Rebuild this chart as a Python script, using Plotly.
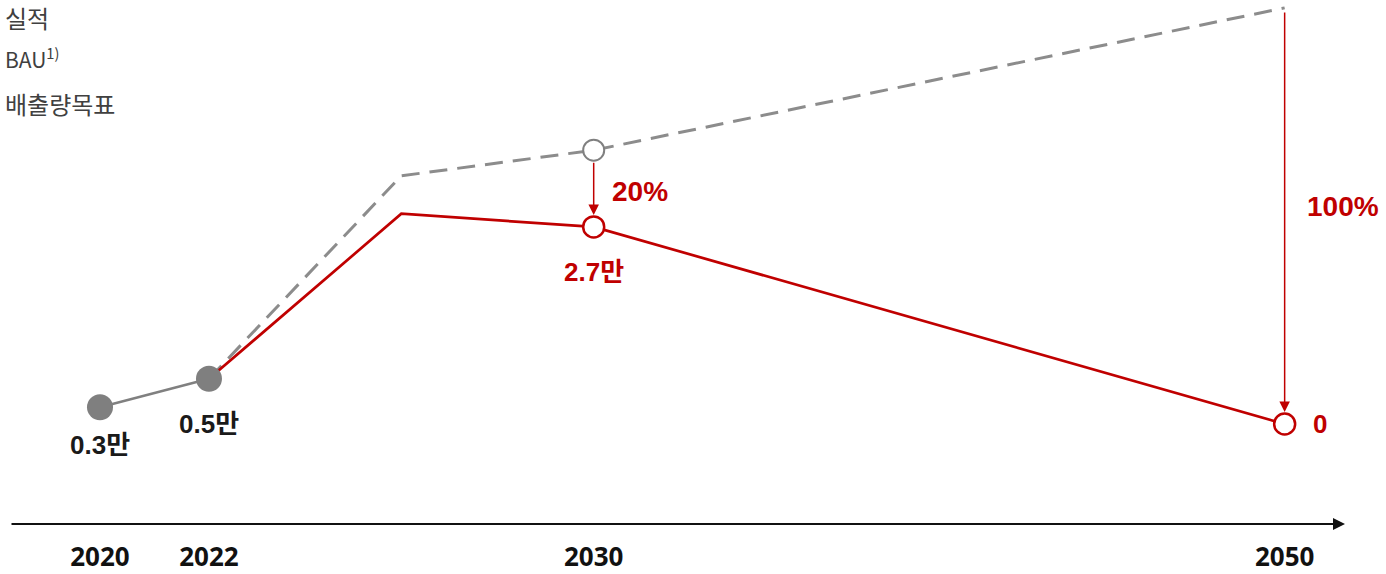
import numpy as np
import plotly.graph_objects as go

# ---- data (unit: 만) ----
actual_years = [2020, 2022]
actual_vals = [0.23, 0.62]
actual_labels = ["0.3만", "0.5만"]

bau_years = [2022, 2026, 2030, 2050]
bau_vals = [0.62, 3.40, 3.75, 5.70]

target_years = [2022, 2026, 2030, 2050]
target_vals = [0.62, 2.88, 2.70, 0.0]
target_labels = {2030: "2.7만", 2050: "0"}
reduction_labels = {2030: "20%", 2050: "100%"}

tick_years = [2020, 2022, 2030, 2050]
tick_text = ["2020", "2022", "2030", "2050"]

legend_items = ["실적", "BAU<sup>1)</sup>", "배출량목표"]

# ---- compressed (piecewise-linear) time scale ----
SCALE_YEARS = [2020, 2022, 2030, 2050]
SCALE_POS = [0.0, 2.0, 9.06, 21.74]


def xpos(years):
    return list(np.interp(years, SCALE_YEARS, SCALE_POS))


RED = "#c00000"
GRAY = "#808080"
BOLDF = "Liberation Sans, Arial, Noto Sans CJK KR, sans-serif"
PLOT_H = 524  # plot-area height in px (figure 574, bottom margin 50)

fig = go.Figure()

# BAU dashed line
fig.add_trace(go.Scatter(
    x=xpos(bau_years), y=bau_vals, mode="lines",
    line=dict(color="#8c8c8c", width=3, dash="18px,10px"),
    hoverinfo="skip", showlegend=False))

# BAU 2030 open marker
i30 = bau_years.index(2030)
fig.add_trace(go.Scatter(
    x=xpos([bau_years[i30]]), y=[bau_vals[i30]], mode="markers",
    marker=dict(size=21, color="white", line=dict(color="#808080", width=2)),
    hoverinfo="skip", showlegend=False))

# Target line
fig.add_trace(go.Scatter(
    x=xpos(target_years), y=target_vals, mode="lines",
    line=dict(color=RED, width=2.7),
    hoverinfo="skip", showlegend=False))

# Target open markers (2030, 2050)
mk_years = [y for y in target_years if y in target_labels]
mk_vals = [target_vals[target_years.index(y)] for y in mk_years]
fig.add_trace(go.Scatter(
    x=xpos(mk_years), y=mk_vals, mode="markers",
    marker=dict(size=21, color="white", line=dict(color=RED, width=2.5)),
    hoverinfo="skip", showlegend=False))

# Actual line + filled markers
fig.add_trace(go.Scatter(
    x=xpos(actual_years), y=actual_vals, mode="lines+markers",
    line=dict(color=GRAY, width=2.5),
    marker=dict(size=26, color="#7f7f7f"),
    hoverinfo="skip", showlegend=False))

annotations = []

# actual value labels
for yr, v, lab, ys in zip(actual_years, actual_vals, actual_labels, [-38, -45]):
    annotations.append(dict(
        x=xpos([yr])[0], y=v, text=f"<b>{lab}</b>", showarrow=False,
        yshift=ys, font=dict(family=BOLDF, size=26, color="#1a1a1a")))

# target labels
for yr, lab in target_labels.items():
    v = target_vals[target_years.index(yr)]
    if yr == 2050:
        annotations.append(dict(
            x=xpos([yr])[0], y=v, text=f"<b>{lab}</b>", showarrow=False,
            xshift=35, font=dict(family=BOLDF, size=26, color=RED)))
    else:
        annotations.append(dict(
            x=xpos([yr])[0], y=v, text=f"<b>{lab}</b>", showarrow=False,
            yshift=-45, font=dict(family=BOLDF, size=26, color=RED)))

# reduction arrows + labels
for yr, lab in reduction_labels.items():
    b = bau_vals[bau_years.index(yr)]
    t = target_vals[target_years.index(yr)]
    x = xpos([yr])[0]
    annotations.append(dict(
        x=x, y=t, ax=x, ay=b, xref="x", yref="y", axref="x", ayref="y",
        showarrow=True, arrowhead=2, arrowsize=1.4, arrowwidth=1.5,
        arrowcolor=RED, standoff=12, startstandoff=11 if yr == 2030 else 3,
        text=""))
    annotations.append(dict(
        x=x, y=(b + t) / 2, text=f"<b>{lab}</b>", showarrow=False,
        xshift=46 if yr == 2030 else 58, yshift=-3 if yr == 2030 else 9,
        font=dict(family=BOLDF, size=28, color=RED)))

# legend texts (top-left)
for i, item in enumerate(legend_items):
    annotations.append(dict(
        xref="paper", yref="paper", x=0.002,
        y=(PLOT_H - [17, 58, 103][i]) / PLOT_H,
        yanchor="middle", xanchor="left", showarrow=False, text=item,
        font=dict(family="Noto Sans CJK KR, sans-serif",
                  size=24 if i != 1 else 21, color="#404040")))

# x-axis arrow
annotations.append(dict(
    xref="paper", yref="paper", x=1345 / 1386, y=0,
    ax=-1335, ay=0, showarrow=True, arrowhead=2, arrowsize=1.2,
    arrowwidth=2, arrowcolor="#111111", text=""))

fig.update_layout(
    width=1386, height=574,
    margin=dict(l=0, r=0, t=0, b=50, autoexpand=False),
    plot_bgcolor="white", paper_bgcolor="white",
    annotations=annotations,
    xaxis=dict(range=[-1.835, 23.60], tickvals=xpos(tick_years),
               ticktext=[f"<b>{t}</b>" for t in tick_text],
               showgrid=False, zeroline=False, showline=False,
               automargin=False,
               ticks="outside", ticklen=10, tickcolor="rgba(0,0,0,0)",
               tickfont=dict(family="Noto Sans, Open Sans, sans-serif",
                             size=26, color="#111111")),
    yaxis=dict(range=[-1.370, 5.808], visible=False, showgrid=False,
               zeroline=False),
)

fig.write_html("out.html", config={"displayModeBar": False},
               post_script="document.body.style.margin='0px';")
